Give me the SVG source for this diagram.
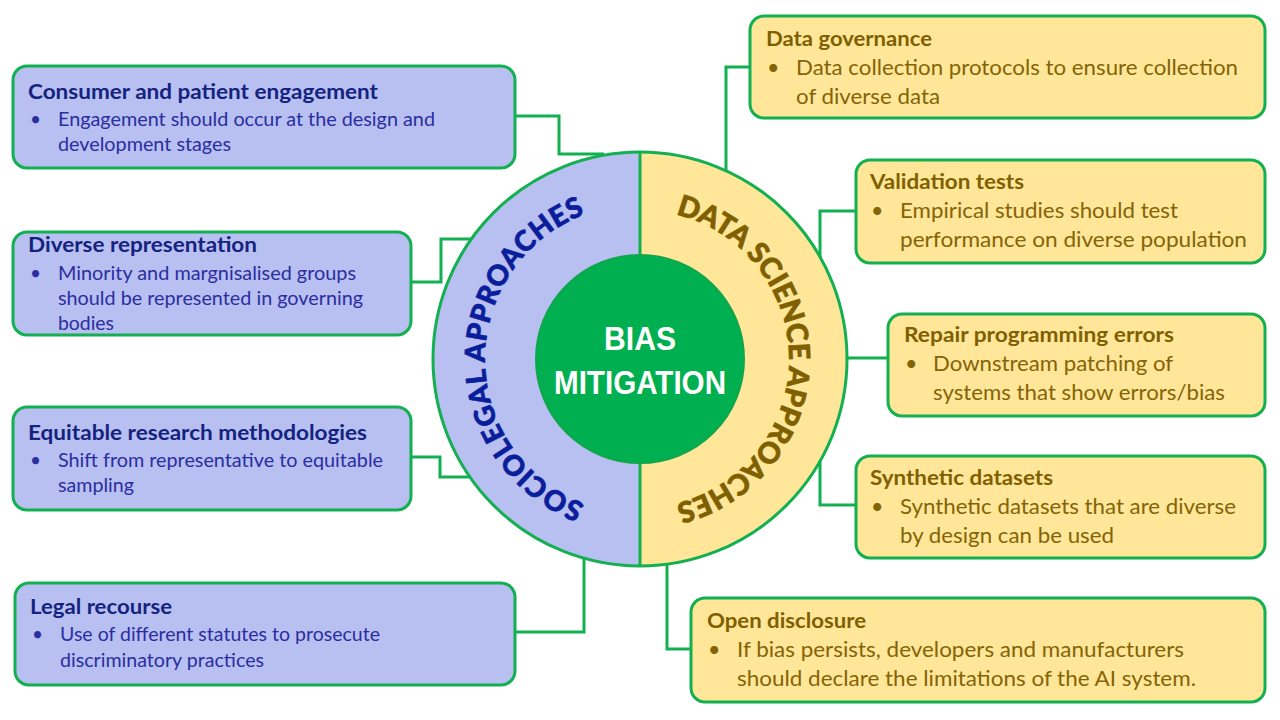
<svg xmlns="http://www.w3.org/2000/svg" width="1280" height="720" viewBox="0 0 1280 720">
<style>
.conn{fill:none;stroke:#12B050;stroke-width:3}
.bl{fill:#B8BFF1;stroke:#12B050;stroke-width:3}
.by{fill:#FFE699;stroke:#12B050;stroke-width:3}
.tl{font-family:Lato,"Liberation Sans",sans-serif;font-weight:700;font-size:21.5px;fill:#14237F}
.bdl{font-family:Lato,"Liberation Sans",sans-serif;font-size:19px;fill:#2A2EA0}
.ty{font-family:Lato,"Liberation Sans",sans-serif;font-weight:700;font-size:21.5px;fill:#7F6000}
.bdy{font-family:Lato,"Liberation Sans",sans-serif;font-size:21.5px;fill:#846406}
.arcL{font-family:Lato,"Liberation Sans",sans-serif;font-weight:900;font-size:28px;fill:#0A1E9C;stroke:#0A1E9C;stroke-width:0.7}
.arcR{font-family:Lato,"Liberation Sans",sans-serif;font-weight:900;font-size:29px;fill:#7F6000;stroke:#7F6000;stroke-width:0.7}
.ctr{font-family:"Liberation Sans",Arial,sans-serif;font-weight:700;font-size:34px;fill:#FFFFFF}
</style>
<defs>
<path id="pL" d="M640,514 A155,155 0 0 1 640,204"/>
<path id="pR" d="M640,210 A149,149 0 0 1 640,508"/>
</defs>
<rect width="1280" height="720" fill="#FFFFFF"/>
<g id="connectors">
<path class="conn" d="M515,116 H559 V154 H604"/>
<path class="conn" d="M411,282 H441 V239 H472"/>
<path class="conn" d="M411,457 H440 V477 H470"/>
<path class="conn" d="M515,632 H584 V559"/>
<path class="conn" d="M750,67 H726 V170"/>
<path class="conn" d="M856,211 H820 V257"/>
<path class="conn" d="M888,358 H847"/>
<path class="conn" d="M856,505 H820 V461"/>
<path class="conn" d="M691,649 H667 V564"/>
</g>
<g id="hub">
<path d="M640,152 A207,207 0 0 0 640,566 Z" fill="#B8BFF1"/>
<path d="M640,152 A207,207 0 0 1 640,566 Z" fill="#FFE699"/>
<circle cx="640" cy="359" r="207" fill="none" stroke="#12B050" stroke-width="3"/>
<line x1="640" y1="152" x2="640" y2="566" stroke="#12B050" stroke-width="3"/>
<text class="arcL"><textPath href="#pL" startOffset="50%" text-anchor="middle" textLength="374" lengthAdjust="spacing">SOCIOLEGAL APPROACHES</textPath></text>
<text class="arcR"><textPath href="#pR" startOffset="50%" text-anchor="middle" textLength="396" lengthAdjust="spacing">DATA SCIENCE APPROACHES</textPath></text>
<circle cx="640" cy="359" r="104" fill="#00B050" stroke="#0FA64C" stroke-width="2"/>
<text class="ctr" x="640" y="350" text-anchor="middle" textLength="72" lengthAdjust="spacingAndGlyphs">BIAS</text>
<text class="ctr" x="640" y="394" text-anchor="middle" textLength="172" lengthAdjust="spacingAndGlyphs">MITIGATION</text>
</g>
<g id="consumer">
<rect class="bl" x="13" y="66" width="502" height="102" rx="14"/>
<text class="tl" x="28" y="99" textLength="350" lengthAdjust="spacingAndGlyphs">Consumer and patient engagement</text>
<text class="bdl" x="30" y="126">•</text>
<text class="bdl" x="58" y="126" textLength="377" lengthAdjust="spacingAndGlyphs">Engagement should occur at the design and</text>
<text class="bdl" x="58" y="151" textLength="173" lengthAdjust="spacingAndGlyphs">development stages</text>
</g>
<g id="diverse">
<rect class="bl" x="13" y="232" width="398" height="103" rx="14"/>
<text class="tl" x="28" y="252" textLength="229" lengthAdjust="spacingAndGlyphs">Diverse representation</text>
<text class="bdl" x="30" y="280">•</text>
<text class="bdl" x="58" y="280" textLength="298" lengthAdjust="spacingAndGlyphs">Minority and margnisalised groups</text>
<text class="bdl" x="58" y="305" textLength="305" lengthAdjust="spacingAndGlyphs">should be represented in governing</text>
<text class="bdl" x="58" y="330" textLength="56" lengthAdjust="spacingAndGlyphs">bodies</text>
</g>
<g id="equitable">
<rect class="bl" x="13" y="407" width="398" height="103" rx="14"/>
<text class="tl" x="28" y="440" textLength="339" lengthAdjust="spacingAndGlyphs">Equitable research methodologies</text>
<text class="bdl" x="30" y="467">•</text>
<text class="bdl" x="58" y="467" textLength="325" lengthAdjust="spacingAndGlyphs">Shift from representative to equitable</text>
<text class="bdl" x="58" y="492" textLength="76" lengthAdjust="spacingAndGlyphs">sampling</text>
</g>
<g id="legal">
<rect class="bl" x="15" y="583" width="500" height="102" rx="14"/>
<text class="tl" x="30" y="614" textLength="142" lengthAdjust="spacingAndGlyphs">Legal recourse</text>
<text class="bdl" x="32" y="641">•</text>
<text class="bdl" x="60" y="641" textLength="320" lengthAdjust="spacingAndGlyphs">Use of different statutes to prosecute</text>
<text class="bdl" x="60" y="667" textLength="204" lengthAdjust="spacingAndGlyphs">discriminatory practices</text>
</g>
<g id="governance">
<rect class="by" x="750" y="16" width="515" height="102" rx="14"/>
<text class="ty" x="766" y="46" textLength="166" lengthAdjust="spacingAndGlyphs">Data governance</text>
<text class="bdy" x="767" y="75">•</text>
<text class="bdy" x="796" y="75" textLength="442" lengthAdjust="spacingAndGlyphs">Data collection protocols to ensure collection</text>
<text class="bdy" x="796" y="104" textLength="144" lengthAdjust="spacingAndGlyphs">of diverse data</text>
</g>
<g id="validation">
<rect class="by" x="856" y="160" width="409" height="103" rx="14"/>
<text class="ty" x="870" y="189" textLength="154" lengthAdjust="spacingAndGlyphs">Validation tests</text>
<text class="bdy" x="871" y="218">•</text>
<text class="bdy" x="900" y="218" textLength="278" lengthAdjust="spacingAndGlyphs">Empirical studies should test</text>
<text class="bdy" x="900" y="247" textLength="347" lengthAdjust="spacingAndGlyphs">performance on diverse population</text>
</g>
<g id="repair">
<rect class="by" x="888" y="314" width="377" height="102" rx="14"/>
<text class="ty" x="904" y="342" textLength="270" lengthAdjust="spacingAndGlyphs">Repair programming errors</text>
<text class="bdy" x="905" y="371">•</text>
<text class="bdy" x="933" y="371" textLength="240" lengthAdjust="spacingAndGlyphs">Downstream patching of</text>
<text class="bdy" x="933" y="400" textLength="292" lengthAdjust="spacingAndGlyphs">systems that show errors/bias</text>
</g>
<g id="synthetic">
<rect class="by" x="856" y="456" width="409" height="102" rx="14"/>
<text class="ty" x="870" y="485" textLength="183" lengthAdjust="spacingAndGlyphs">Synthetic datasets</text>
<text class="bdy" x="871" y="514">•</text>
<text class="bdy" x="900" y="514" textLength="336" lengthAdjust="spacingAndGlyphs">Synthetic datasets that are diverse</text>
<text class="bdy" x="900" y="543" textLength="214" lengthAdjust="spacingAndGlyphs">by design can be used</text>
</g>
<g id="disclosure">
<rect class="by" x="691" y="598" width="574" height="104" rx="14"/>
<text class="ty" x="707" y="628" textLength="159" lengthAdjust="spacingAndGlyphs">Open disclosure</text>
<text class="bdy" x="708" y="657">•</text>
<text class="bdy" x="737" y="657" textLength="447" lengthAdjust="spacingAndGlyphs">If bias persists, developers and manufacturers</text>
<text class="bdy" x="737" y="686" textLength="459" lengthAdjust="spacingAndGlyphs">should declare the limitations of the AI system.</text>
</g>
</svg>
